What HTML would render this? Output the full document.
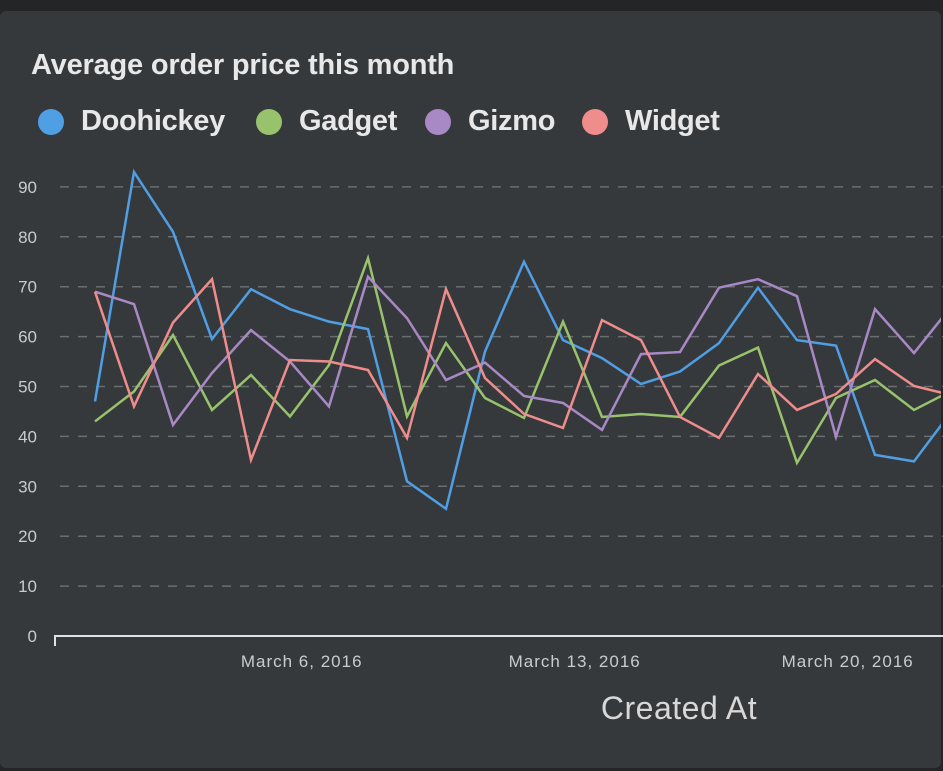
<!DOCTYPE html>
<html><head><meta charset="utf-8"><style>
html,body{margin:0;padding:0;width:943px;height:771px;background:#232527;overflow:hidden;font-family:"Liberation Sans",sans-serif}
#card{position:absolute;left:0;top:11px;width:941px;height:757px;background:#36393c;border-radius:6px}
#title{position:absolute;left:31px;top:49px;font-size:29px;font-weight:bold;color:#e8e8e8;letter-spacing:-0.2px}
.leg{position:absolute;top:105px;font-size:29px;font-weight:bold;color:#e8e8e8;display:flex;align-items:center;letter-spacing:-0.3px}
.dot{width:26px;height:26px;border-radius:50%;margin-right:17px}
</style></head><body>
<div id="card"></div>
<div id="title">Average order price this month</div>
<div class="leg" style="left:38px"><span class="dot" style="background:#509ee3"></span>Doohickey</div>
<div class="leg" style="left:256px"><span class="dot" style="background:#98c36c"></span>Gadget</div>
<div class="leg" style="left:425px"><span class="dot" style="background:#a989c5"></span>Gizmo</div>
<div class="leg" style="left:582px"><span class="dot" style="background:#ef8c8c"></span>Widget</div>
<svg id="chart" width="943" height="771" style="position:absolute;left:0;top:0"></svg>
<script>
const yTicks=[0,10,20,30,40,50,60,70,80,90];
const xLabels=["March 6, 2016","March 13, 2016","March 20, 2016"];
const xLabelIdx=[5.3,12.3,19.3];
const seriesNames=["Doohickey","Gadget","Gizmo","Widget"];
const seriesColors=["#509ee3","#98c36c","#a989c5","#ef8c8c"];
const doohickey=[47,93,81,59.5,69.5,65.5,63,61.5,31,25.5,57,75,59.3,55.7,50.5,53,58.7,69.8,59.3,58.2,36.3,35,45.4];
const gadget=[43,49,60.3,45.3,52.3,44,54.3,75.7,44,58.7,47.7,43.7,63,43.9,44.5,43.9,54.2,57.8,34.7,47.7,51.3,45.3,49.3];
const gizmo=[69,66.5,42.3,52.7,61.3,55,46,72,63.7,51.3,54.8,48.1,46.7,41.3,56.5,56.9,69.8,71.5,68.1,39.9,65.5,56.7,66.5];
const widget=[69,46,62.8,71.5,35.3,55.3,55,53.3,39.7,69.5,51.7,44.5,41.7,63.3,59.3,43.9,39.7,52.5,45.3,48.5,55.5,50.1,48.2];
const allSeries=[doohickey,gadget,gizmo,widget];
const NS="http://www.w3.org/2000/svg";
const svg=document.getElementById('chart');
const y=v=>636-v*4.99;
const x=i=>95+i*39;
function mk(t,a){const e=document.createElementNS(NS,t);for(const k in a)e.setAttribute(k,a[k]);svg.appendChild(e);return e;}
const clip=mk('clipPath',{id:'cp'});
const r=document.createElementNS(NS,'rect');r.setAttribute('x',55);r.setAttribute('y',100);r.setAttribute('width',886);r.setAttribute('height',600);clip.appendChild(r);
yTicks.forEach(t=>{
  if(t>0){const g=mk('line',{x1:60,x2:943,y1:y(t),y2:y(t),stroke:'#6b6e71','stroke-width':1.5,'stroke-dasharray':'9,9'});
  
  }
  const l=mk('text',{x:37,y:y(t)+6,'text-anchor':'end','font-size':17,fill:'#c9cbcd','font-family':'Liberation Sans, sans-serif'});
  l.textContent=t;
  
  
});
const ax=mk('path',{d:'M55,646 V636 H943',stroke:'#e0e0e0','stroke-width':2,fill:'none'});


xLabels.forEach((s,j)=>{
  const t=mk('text',{x:x(xLabelIdx[j]),y:667,'text-anchor':'middle','font-size':17,'letter-spacing':1,fill:'#c9cbcd','font-family':'Liberation Sans, sans-serif'});
  t.textContent=s;
  
  
});
const xt=mk('text',{x:679,y:719,'text-anchor':'middle','font-size':32,'letter-spacing':0.5,fill:'#d8d8d8','font-family':'Liberation Sans, sans-serif'});
xt.textContent='Created At';


allSeries.forEach((d,s)=>{
  const p=mk('polyline',{points:d.map((v,i)=>x(i)+','+y(v)).join(' '),fill:'none',stroke:seriesColors[s],'stroke-width':2.5,'stroke-linejoin':'miter','clip-path':'url(#cp)'});
  
  
});
</script>
</body></html>
